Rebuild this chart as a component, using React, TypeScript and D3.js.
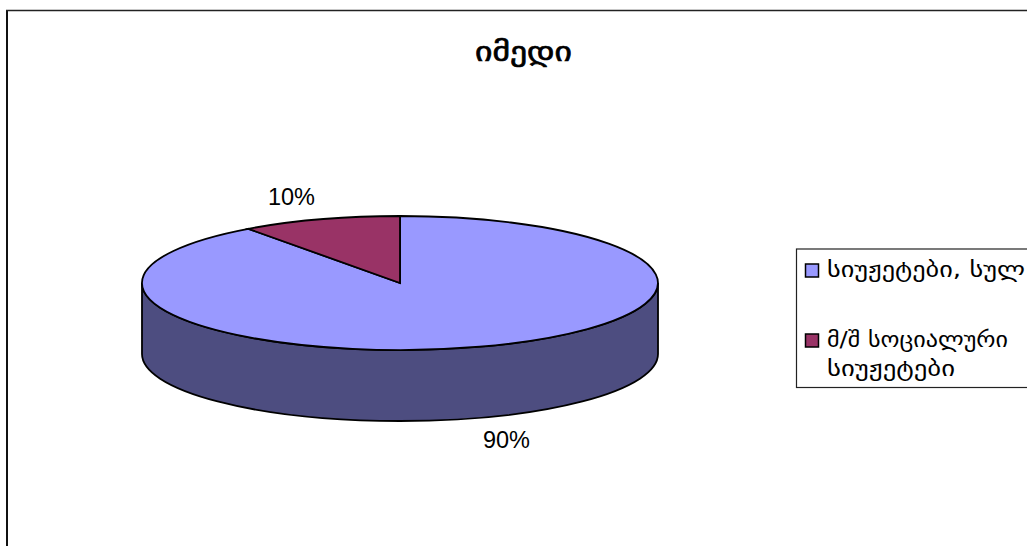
import * as d3 from "d3";

const title = "იმედი";
const categories = ["სიუჟეტები, სულ", "მ/შ სოციალური სიუჟეტები"];
const legendLines = [["სიუჟეტები, სულ"], ["მ/შ სოციალური", "სიუჟეტები"]];
const values = [90, 10];
const colors = ["#9999ff", "#993366"];
const sideColor = "#4d4d80";

const width = 1027;
const height = 546;
const cx = 400;
const cy = 283;
const rx = 258;
const ry = 67;
const depth = 71;
const geoFont = "'DejaVu Sans', sans-serif";
const labelFont = "'Liberation Sans', Arial, sans-serif";

export default function App() {
  const total = d3.sum(values);
  // clockwise from 12 o'clock, big slice first
  const slices = d3.pie<number>().sort(null).startAngle(0).endAngle(2 * Math.PI)(values);
  const unitArc = d3.arc<d3.PieArcDatum<number>>().innerRadius(0).outerRadius(1);
  const side = `M${cx - rx},${cy} A${rx},${ry} 0 0 0 ${cx + rx},${cy} V${cy + depth} A${rx},${ry} 0 0 1 ${cx - rx},${cy + depth} Z`;
  const labelPos = [
    { x: 506.5, y: 448 },
    { x: 291.5, y: 205 },
  ];
  // the original font is wider than DejaVu, so each line gets stretched
  const legendRows = [
    { swatch: 264, base: [277], widths: [198] },
    { swatch: 334, base: [347, 376], widths: [181, 128] },
  ];

  return (
    <svg
      width={width}
      height={height}
      style={{ position: "absolute", left: 0, top: 0, background: "#fff" }}
    >
      <line x1={7} x2={7} y1={10} y2={height} stroke="#111" strokeWidth={2} />
      <line x1={6} x2={width} y1={10.5} y2={10.5} stroke="#222" strokeWidth={1.5} />

      <text
        x={475}
        y={61}
        textLength={97}
        lengthAdjust="spacingAndGlyphs"
        fontFamily={geoFont}
        fontSize={27}
        stroke="#000"
        strokeWidth={0.7}
        fill="#000"
      >
        {title}
      </text>

      <path d={side} fill={sideColor} stroke="#000" strokeWidth={1.8} />
      <g transform={`translate(${cx},${cy}) scale(${rx},${ry})`}>
        {slices.map((s, i) => (
          <path
            key={categories[i]}
            d={unitArc(s) as string}
            fill={colors[i]}
            stroke="#000"
            strokeWidth={1.8}
            vectorEffect="non-scaling-stroke"
          />
        ))}
      </g>

      {values.map((v, i) => (
        <text
          key={i}
          x={labelPos[i].x}
          y={labelPos[i].y}
          textAnchor="middle"
          fontFamily={labelFont}
          fontSize={23.5}
          fill="#000"
        >
          {d3.format(".0%")(v / total)}
        </text>
      ))}

      <rect x={796.5} y={249} width={260} height={138.5} fill="#fff" stroke="#222" strokeWidth={1.2} />
      {legendLines.map((lines, i) => (
        <g key={i}>
          <rect x={805.5} y={legendRows[i].swatch} width={13} height={13} fill={colors[i]} stroke="#000" strokeWidth={1.5} />
          {lines.map((line, j) => (
            <text
              key={j}
              x={827}
              y={legendRows[i].base[j]}
              textLength={legendRows[i].widths[j]}
              lengthAdjust="spacingAndGlyphs"
              fontFamily={geoFont}
              fontSize={21.5}
              fill="#000"
            >
              {line}
            </text>
          ))}
        </g>
      ))}
    </svg>
  );
}
